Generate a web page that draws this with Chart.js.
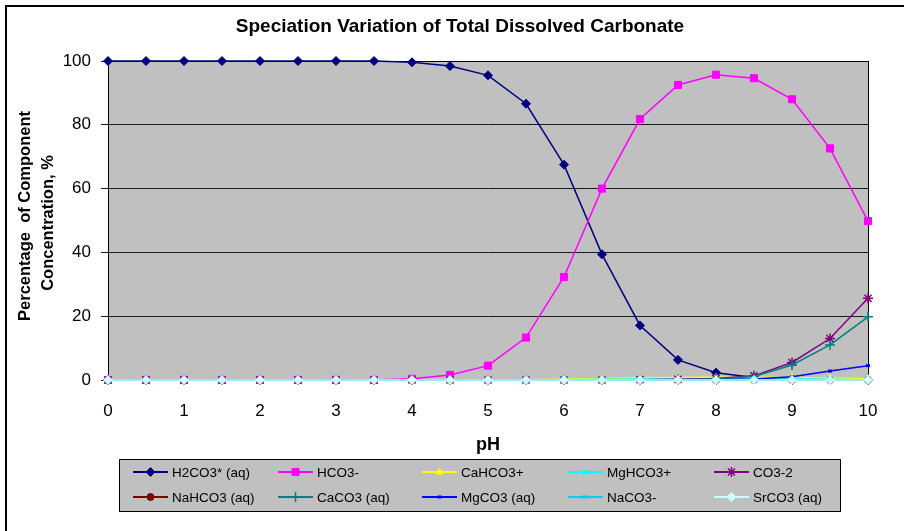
<!DOCTYPE html>
<html>
<head>
<meta charset="utf-8">
<script src="https://cdn.jsdelivr.net/npm/chart.js@4/dist/chart.umd.min.js"></script>
<style>
  html, body { margin: 0; padding: 0; background: #ffffff; }
  #wrap { width: 904px; height: 531px; position: relative; }
</style>
</head>
<body>
<div id="wrap"><canvas id="c" width="904" height="531"></canvas></div>
<script>
// pH steps
const pH = [0, 0.5, 1, 1.5, 2, 2.5, 3, 3.5, 4, 4.5, 5, 5.5, 6, 6.5, 7, 7.5, 8, 8.5, 9, 9.5, 10];

// Percentage of total dissolved carbonate held by each species
const h2co3   = [100, 100, 100, 100, 100, 100, 100, 100, 99.6, 98.4, 95.5, 86.6, 67.5, 39.4, 17.1, 6.3, 2.3, 0.8, 0.2, 0.1, 0];
const hco3    = [0, 0, 0, 0, 0, 0, 0, 0, 0.4, 1.6, 4.5, 13.3, 32.3, 60.0, 81.8, 92.5, 95.7, 94.6, 88.0, 72.6, 49.8];
const cahco3  = [0, 0, 0, 0, 0, 0, 0, 0, 0, 0, 0, 0.1, 0.2, 0.5, 0.7, 0.8, 0.9, 0.9, 0.8, 0.6, 0.4];
const mghco3  = [0, 0, 0, 0, 0, 0, 0, 0, 0, 0, 0, 0, 0.1, 0.2, 0.3, 0.3, 0.3, 0.3, 0.3, 0.2, 0.1];
const co3     = [0, 0, 0, 0, 0, 0, 0, 0, 0, 0, 0, 0, 0, 0, 0.1, 0.2, 0.5, 1.3, 5.5, 13.0, 25.6];
const nahco3  = [0, 0, 0, 0, 0, 0, 0, 0, 0, 0, 0, 0, 0, 0, 0, 0, 0, 0, 0, 0, 0];
const caco3   = [0, 0, 0, 0, 0, 0, 0, 0, 0, 0, 0, 0, 0, 0, 0, 0.1, 0.3, 1.1, 4.7, 11.0, 19.8];
const mgco3   = [0, 0, 0, 0, 0, 0, 0, 0, 0, 0, 0, 0, 0, 0, 0, 0, 0.1, 0.3, 1.0, 2.8, 4.5];
const naco3   = [0, 0, 0, 0, 0, 0, 0, 0, 0, 0, 0, 0, 0, 0, 0, 0, 0, 0, 0, 0, 0.1];
const srco3   = [0, 0, 0, 0, 0, 0, 0, 0, 0, 0, 0, 0, 0, 0, 0, 0, 0, 0, 0, 0, 0];

const seriesNames = ['H2CO3* (aq)', 'HCO3-', 'CaHCO3+', 'MgHCO3+', 'CO3-2',
                     'NaHCO3 (aq)', 'CaCO3 (aq)', 'MgCO3 (aq)', 'NaCO3-', 'SrCO3 (aq)'];
const seriesValues = [h2co3, hco3, cahco3, mghco3, co3, nahco3, caco3, mgco3, naco3, srco3];
const yTicks = [0, 20, 40, 60, 80, 100];
const xTicks = [0, 1, 2, 3, 4, 5, 6, 7, 8, 9, 10];

// Line / marker look per species
const styles = [
  { color: '#000080', point: 'rectRot',  r: 4.5, bw: 1 },
  { color: '#FF00FF', point: 'rect',     r: 5,   bw: 1 },
  { color: '#FFFF00', point: 'triangle', r: 4,   bw: 1 },
  { color: '#00FFFF', point: 'crossRot', r: 4,   bw: 1.5 },
  { color: '#800080', point: 'star',     r: 5,   bw: 1.5 },
  { color: '#800000', point: 'circle',   r: 3.5, bw: 1 },
  { color: '#008080', point: 'cross',    r: 5,   bw: 1.5 },
  { color: '#0000FF', point: 'line',     r: 2,   bw: 3 },
  { color: '#00CCFF', point: 'line',     r: 4,   bw: 3 },
  { color: '#CCFFFF', point: 'rectRot',  r: 4.5, bw: 1 }
];

const FONT = "'Liberation Sans', Arial, Helvetica, sans-serif";

const datasets = seriesNames.map((name, i) => ({
  label: name,
  data: pH.map((x, k) => ({ x: x, y: seriesValues[i][k] })),
  borderColor: styles[i].color,
  backgroundColor: styles[i].color,
  pointBackgroundColor: styles[i].color,
  pointBorderColor: styles[i].color,
  pointStyle: styles[i].point,
  pointRadius: styles[i].r,
  pointHoverRadius: styles[i].r,
  pointBorderWidth: styles[i].bw,
  borderWidth: 1.5,
  tension: 0,
  fill: false,
  clip: false,
  order: seriesNames.length - 1 - i
}));

// Frame, gray plot area, titles and the boxed legend
const decor = {
  id: 'decor',
  beforeDraw(chart) {
    const { ctx, chartArea: a } = chart;
    ctx.save();
    ctx.fillStyle = '#ffffff';
    ctx.fillRect(0, 0, chart.width, chart.height);
    ctx.fillStyle = '#C0C0C0';
    ctx.fillRect(a.left, a.top, a.right - a.left, a.bottom - a.top);
    ctx.restore();
  },
  beforeDatasetsDraw(chart) {
    const { ctx, chartArea: a } = chart;
    ctx.save();
    ctx.strokeStyle = '#000000';
    ctx.lineWidth = 1;
    ctx.strokeRect(Math.round(a.left) + 0.5, Math.round(a.top) + 0.5,
                   Math.round(a.right - a.left), Math.round(a.bottom - a.top));
    ctx.restore();
  },
  afterDraw(chart) {
    const { ctx } = chart;
    ctx.save();
    // outer frame
    ctx.strokeStyle = '#000000';
    ctx.lineWidth = 2;
    ctx.strokeRect(6, 6, 1200, 1200);

    ctx.fillStyle = '#000000';
    ctx.textAlign = 'center';
    ctx.textBaseline = 'middle';
    ctx.font = 'bold 19px ' + FONT;
    ctx.fillText('Speciation Variation of Total Dissolved Carbonate', 460, 27);
    ctx.font = 'bold 18px ' + FONT;
    ctx.fillText('pH', 488, 445);

    ctx.font = 'bold 16.5px ' + FONT;
    ctx.save();
    ctx.translate(25, 216);
    ctx.rotate(-Math.PI / 2);
    ctx.fillText('Percentage  of Component', 0, 0);
    ctx.restore();
    ctx.save();
    ctx.translate(48, 223);
    ctx.rotate(-Math.PI / 2);
    ctx.fillText('Concentration, %', 0, 0);
    ctx.restore();

    // legend box
    ctx.fillStyle = '#C0C0C0';
    ctx.fillRect(119, 459, 721, 52);
    ctx.strokeStyle = '#000000';
    ctx.lineWidth = 1;
    ctx.strokeRect(119.5, 459.5, 721, 52);

    const colX = [133, 278, 422, 568, 714];
    const rowY = [472, 497];
    chart.data.datasets.forEach((ds, i) => {
      const x = colX[i % 5];
      const y = rowY[Math.floor(i / 5)];
      ctx.strokeStyle = ds.borderColor;
      ctx.lineWidth = 2;
      ctx.beginPath();
      ctx.moveTo(x, y);
      ctx.lineTo(x + 35, y);
      ctx.stroke();
      ctx.fillStyle = ds.pointBackgroundColor;
      ctx.strokeStyle = ds.pointBorderColor;
      ctx.lineWidth = ds.pointBorderWidth;
      if (Chart.helpers && Chart.helpers.drawPoint) {
        Chart.helpers.drawPoint(ctx, {
          pointStyle: ds.pointStyle, radius: ds.pointRadius,
          rotation: 0, borderWidth: ds.pointBorderWidth
        }, x + 17.5, y);
      }
      ctx.fillStyle = '#000000';
      ctx.textAlign = 'left';
      ctx.textBaseline = 'middle';
      ctx.font = '13.5px ' + FONT;
      ctx.fillText(ds.label, x + 39, y + 1);
    });
    ctx.restore();
  }
};

new Chart(document.getElementById('c'), {
  type: 'line',
  data: { datasets: datasets },
  options: {
    responsive: false,
    animation: false,
    events: [],
    layout: { padding: { left: 0, top: 61, right: 36, bottom: 0 } },
    plugins: { legend: { display: false }, title: { display: false }, tooltip: { enabled: false } },
    scales: {
      x: {
        type: 'linear',
        min: 0, max: 10,
        afterFit(s) { s.height = 151; },
        afterBuildTicks(s) { s.ticks = xTicks.map(v => ({ value: v })); },
        ticks: { color: '#000000', font: { family: FONT, size: 17 }, padding: 16, maxRotation: 0 },
        grid: { drawOnChartArea: false, drawTicks: true, tickLength: 5, color: '#000000' },
        border: { display: true, color: '#000000', width: 1 }
      },
      y: {
        type: 'linear',
        min: 0, max: 100,
        afterFit(s) { s.width = 108; },
        afterBuildTicks(s) { s.ticks = yTicks.map(v => ({ value: v })); },
        ticks: { color: '#000000', font: { family: FONT, size: 17 }, padding: 10 },
        grid: { drawOnChartArea: true, drawTicks: true, tickLength: 7, color: '#1a1a1a', lineWidth: 1 },
        border: { display: true, color: '#000000', width: 1 }
      }
    }
  },
  plugins: [decor]
});
</script>
</body>
</html>
